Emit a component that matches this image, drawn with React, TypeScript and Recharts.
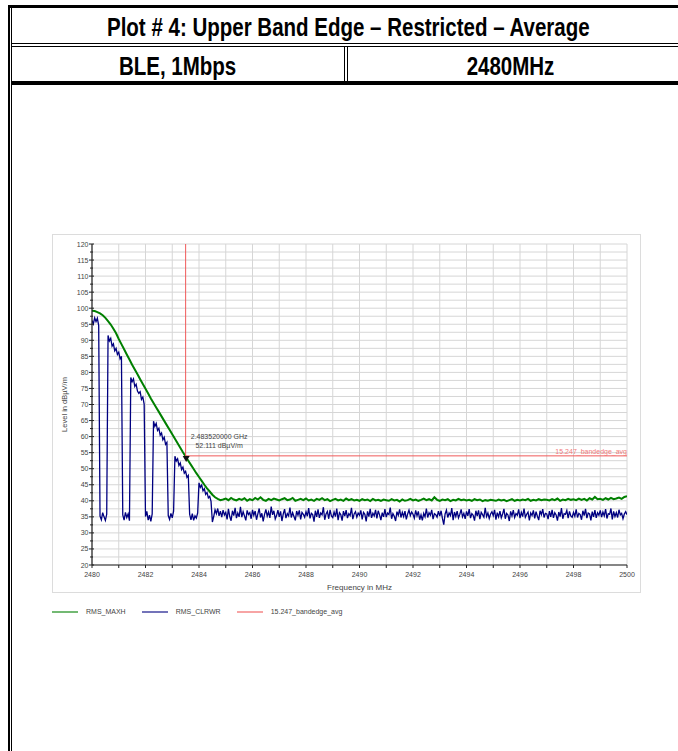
import { LineChart, Line, XAxis, YAxis, CartesianGrid, ReferenceDot, Legend } from 'recharts'

// sweep settings of the two traces (frequency in MHz)
const BLUE_START = 2480
const BLUE_STEP = 0.05
const GREEN_START = 2480
const GREEN_STEP = 0.1

// RMS_CLRWR trace, one row per MHz (20 points each)
const CLRWR_LEVELS = [
  96.2, 95.1, 97.0, 95.8, 96.9, 94.6, 35.2, 34.1, 36.3, 35.0, 33.9, 35.8, 91.5, 89.8, 90.6, 88.2, 88.9, 86.7, 87.5, 85.6,
  86.3, 84.2, 85.0, 35.6, 34.0, 36.4, 34.8, 35.9, 33.8, 78.4, 77.1, 78.0, 75.6, 76.3, 74.2, 73.5, 74.0, 71.6, 72.3, 70.1,
  35.1, 36.7, 34.0, 35.5, 33.6, 35.9, 64.8, 63.2, 64.1, 61.9, 62.6, 60.4, 61.1, 59.0, 59.8, 57.6, 58.2, 35.4, 34.2, 36.1,
  34.7, 36.8, 53.9, 52.4, 53.1, 51.0, 51.8, 49.7, 50.5, 48.6, 49.2, 47.3, 47.9, 35.8, 34.1, 36.0, 33.9, 35.3, 34.6, 36.2,
  45.6, 44.2, 44.9, 43.1, 43.8, 42.0, 42.6, 40.9, 41.4, 39.8, 33.4, 35.1, 37.2, 36.0, 37.6, 35.3, 36.8, 34.9, 37.1, 35.6,
  36.4, 34.2, 37.5, 35.1, 33.8, 36.9, 35.4, 37.8, 34.6, 36.2, 35.0, 38.1, 34.9, 36.6, 35.3, 33.9, 37.0, 35.7, 36.3, 34.4,
  37.2, 35.5, 36.8, 34.1, 35.9, 37.6, 34.8, 36.1, 33.6, 35.8, 37.3, 35.2, 36.5, 34.7, 38.2, 35.6, 36.9, 34.3, 35.4, 37.1,
  35.0, 36.7, 33.7, 35.9, 37.4, 34.6, 36.0, 35.3, 37.9, 34.8, 36.3, 35.1, 33.9, 36.8, 35.5, 37.0, 34.2, 36.4, 35.8, 34.9,
  36.6, 35.2, 37.7, 34.5, 36.1, 35.7, 33.5, 36.9, 35.0, 37.3, 34.7, 36.2, 35.6, 38.0, 34.1, 35.9, 36.7, 34.4, 37.2, 35.3,
  34.8, 36.5, 35.1, 37.6, 34.0, 36.3, 35.7, 33.8, 36.8, 35.2, 37.1, 34.6, 36.0, 35.4, 37.8, 34.3, 35.9, 36.6, 34.9, 36.2,
  35.5, 37.0, 34.2, 36.4, 35.8, 33.6, 36.7, 35.1, 37.5, 34.7, 36.1, 35.3, 37.2, 34.5, 36.9, 35.6, 34.0, 36.3, 35.0, 37.4,
  34.9, 36.2, 35.7, 37.9, 34.4, 36.0, 35.2, 33.7, 36.6, 35.5, 37.3, 34.8, 36.4, 35.1, 36.8, 34.2, 35.9, 37.1, 35.4, 36.5,
  35.8, 34.6, 37.0, 35.3, 36.7, 34.1, 35.6, 33.9, 36.1, 35.0, 37.6, 34.8, 36.3, 35.5, 37.2, 34.3, 36.0, 35.7, 34.9, 36.8,
  35.2, 36.9, 34.5, 32.6, 35.9, 37.1, 34.8, 36.2, 35.4, 37.7, 34.0, 36.5, 35.1, 36.8, 34.7, 35.8, 37.3, 35.0, 36.1, 34.4,
  36.7, 35.3, 37.4, 34.6, 36.0, 35.5, 33.8, 36.9, 35.2, 37.0, 34.3, 36.4, 35.7, 34.9, 37.8, 35.1, 36.2, 34.5, 35.9, 36.6,
  35.4, 37.2, 34.1, 36.3, 35.0, 36.8, 34.7, 35.9, 37.5, 34.4, 36.1, 35.6, 33.7, 36.7, 35.3, 37.1, 34.8, 36.0, 35.5, 37.3,
  34.6, 36.4, 35.1, 37.6, 34.9, 35.8, 36.5, 33.9, 36.2, 35.4, 37.0, 34.5, 36.6, 35.2, 34.0, 36.9, 35.7, 37.4, 34.8, 36.1,
  35.9, 34.3, 36.8, 35.0, 37.2, 34.7, 36.3, 35.6, 33.8, 36.5, 35.1, 37.7, 34.4, 36.0, 35.8, 37.0, 34.6, 36.7, 35.3, 34.9,
  36.4, 35.2, 37.3, 34.8, 36.1, 35.7, 34.1, 36.9, 35.4, 37.5, 34.6, 36.2, 35.9, 33.9, 36.6, 35.0, 37.1, 34.7, 36.3, 35.5,
  37.0, 34.9, 36.5, 35.3, 37.4, 34.5, 36.0, 35.8, 37.6, 34.2, 36.7, 35.1, 36.3, 34.8, 37.2, 35.6, 36.1, 34.4, 35.9, 36.6,
  35.7,
]

// RMS_MAXH trace, one row per MHz (10 points each)
const MAXH_LEVELS = [
  99.2, 99.1, 98.8, 98.4, 97.8, 97.0, 96.0, 94.9, 93.6, 92.2,
  90.4, 88.8, 87.2, 85.6, 84.0, 82.4, 80.9, 79.4, 77.9, 76.4,
  74.9, 73.4, 71.9, 70.5, 69.1, 67.7, 66.3, 64.9, 63.5, 62.1,
  60.7, 59.3, 57.9, 56.5, 55.1, 53.8, 52.5, 51.2, 49.9, 48.6,
  47.4, 46.2, 45.0, 43.9, 42.9, 41.9, 41.1, 40.6, 40.2, 40.4,
  40.7, 40.2, 40.9, 40.4, 40.1, 40.6, 40.3, 40.8, 40.0, 40.5,
  40.2, 40.9, 40.4, 41.1, 40.3, 40.0, 40.6, 40.2, 40.7, 40.4,
  40.1, 40.5, 40.8, 40.2, 40.4, 40.9, 40.0, 40.3, 40.6, 40.2,
  40.7, 40.1, 40.4, 40.0, 40.6, 40.3, 40.8, 40.2, 40.5, 39.9,
  40.3, 40.6, 40.1, 40.4, 40.0, 40.7, 40.2, 40.5, 40.1, 40.3,
  40.0, 40.5, 40.2, 40.4, 39.9, 40.6, 40.1, 40.3, 40.0, 40.4,
  40.2, 40.0, 40.5, 40.1, 40.3, 39.8, 40.4, 40.0, 40.2, 40.6,
  40.1, 40.4, 40.0, 40.3, 40.7, 40.2, 40.5, 40.1, 41.1, 40.3,
  40.0, 40.4, 40.2, 40.5, 39.9, 40.3, 40.1, 40.6, 40.2, 40.4,
  40.1, 40.3, 40.0, 40.5, 40.2, 40.4, 39.9, 40.2, 40.0, 40.3,
  40.2, 40.0, 40.4, 40.1, 40.3, 39.9, 40.2, 40.5, 40.0, 40.3,
  40.1, 40.4, 40.2, 40.6, 40.0, 40.3, 40.1, 40.5, 40.2, 40.4,
  40.3, 40.1, 40.5, 40.2, 40.7, 40.0, 40.4, 40.2, 40.6, 40.3,
  40.5, 40.2, 40.7, 40.3, 40.6, 40.1, 40.8, 40.4, 41.2, 40.5,
  40.6, 40.3, 40.8, 40.4, 40.9, 40.5, 40.7, 41.0, 40.6, 41.2,
  41.4,
]

// 15.247 band edge average limit
const LIMIT_FREQS = [2483.5, 2483.5, 2500]
const LIMIT_LEVELS = [120, 54, 54]

// marker
const MARKER_FREQ = 2483.52
const MARKER_LEVEL = 52.111
const MARKER_TEXT = ['2.483520000 GHz', '52.111 dBµV/m']

const X_TICKS = [2480, 2481, 2482, 2483, 2484, 2485, 2486, 2487, 2488, 2489, 2490,
  2491, 2492, 2493, 2494, 2495, 2496, 2497, 2498, 2499, 2500]
const X_LABELS = [2480, 2482, 2484, 2486, 2488, 2490, 2492, 2494, 2496, 2498, 2500]
const Y_TICKS = [20, 22.5, 25, 27.5, 30, 32.5, 35, 37.5, 40, 42.5, 45, 47.5, 50, 52.5, 55,
  57.5, 60, 62.5, 65, 67.5, 70, 72.5, 75, 77.5, 80, 82.5, 85, 87.5, 90, 92.5, 95, 97.5,
  100, 102.5, 105, 107.5, 110, 112.5, 115, 117.5, 120]
const Y_LABELS = [20, 25, 30, 35, 40, 45, 50, 55, 60, 65, 70, 75, 80, 85, 90, 95, 100, 105, 110, 115, 120]

const LEGEND_ORDER = ['RMS_MAXH', 'RMS_CLRWR', '15.247_bandedge_avg']

const clrwrData = CLRWR_LEVELS.map((v, i) => ({ f: BLUE_START + i * BLUE_STEP, v }))
const maxhData = MAXH_LEVELS.map((v, i) => ({ f: GREEN_START + i * GREEN_STEP, v }))
const limitData = LIMIT_FREQS.map((f, i) => ({ f, v: LIMIT_LEVELS[i] }))

const FONT = '"Liberation Sans", Arial, sans-serif'

function YTick({ x, y, payload }: any) {
  const major = Y_LABELS.includes(payload.value)
  return (
    <g>
      <line x1={x - (major ? 3 : 2)} x2={x + (major ? 2 : 1)} y1={y} y2={y} stroke="#222" />
      {major && (
        <text x={x - 3.5} y={y + 2.5} textAnchor="end" fontSize={7} fill="#444" fontFamily={FONT}>
          {payload.value}
        </text>
      )}
    </g>
  )
}

function XTick({ x, y, payload }: any) {
  const major = X_LABELS.includes(payload.value)
  return (
    <g>
      <line x1={x} x2={x} y1={y} y2={y + 3} stroke="#222" />
      {major && (
        <text x={x} y={y + 11.5} textAnchor="middle" fontSize={7} fill="#444" fontFamily={FONT}>
          {payload.value}
        </text>
      )}
    </g>
  )
}

function MarkerShape({ cx, cy }: any) {
  return (
    <g>
      <path d={`M${cx - 3.5},${cy - 6} L${cx + 3.5},${cy - 6} L${cx},${cy} Z`} fill="#111" />
      <text x={cx + 33} y={cy - 22.5} textAnchor="middle" fontSize={7} fill="#444" fontFamily={FONT}>
        {MARKER_TEXT[0]}
      </text>
      <text x={cx + 33} y={cy - 14} textAnchor="middle" fontSize={7} fill="#444" fontFamily={FONT}>
        {MARKER_TEXT[1]}
      </text>
    </g>
  )
}

function LimitLabel({ x, y, index }: any) {
  if (index !== LIMIT_FREQS.length - 1) return null
  return (
    <text x={x} y={y - 2} textAnchor="end" fontSize={7} fill="#f27a7a" fontFamily={FONT}>
      15.247_bandedge_avg
    </text>
  )
}

function LegendContent({ payload }: any) {
  const items = [...(payload || [])].sort(
    (a: any, b: any) => LEGEND_ORDER.indexOf(a.value) - LEGEND_ORDER.indexOf(b.value),
  )
  return (
    <div style={{ display: 'flex', alignItems: 'center', fontFamily: FONT, fontSize: 7, color: '#444' }}>
      {items.map((p: any) => (
        <div key={p.value} style={{ display: 'flex', alignItems: 'center', marginRight: 16 }}>
          <div style={{ width: 26, height: 2, background: p.color, opacity: 0.55 }} />
          <span style={{ marginLeft: 8 }}>{p.value}</span>
        </div>
      ))}
    </div>
  )
}

function HeadText({ left, top, width, text }: { left: number; top: number; width: number; text: string }) {
  return (
    <div style={{ position: 'absolute', left, top, width, height: 35, lineHeight: '35px', textAlign: 'center',
      fontFamily: FONT, fontWeight: 'bold', fontSize: 25, color: '#000', whiteSpace: 'nowrap' }}>
      <span style={{ display: 'inline-block', transform: 'scaleX(0.82)', transformOrigin: 'center' }}>{text}</span>
    </div>
  )
}

export default function App() {
  const rule = (left: number, top: number, width: number, height: number) => (
    <div style={{ position: 'absolute', left, top, width, height, background: '#000' }} />
  )
  return (
    <div style={{ position: 'absolute', left: 0, top: 0, width: 678, height: 751, overflow: 'hidden', background: '#fff' }}>
      {/* table borders */}
      {rule(8, 5, 680, 3)}
      {rule(8, 5, 2, 760)}
      {rule(11, 8, 1, 760)}
      {rule(11, 43, 680, 1)}
      {rule(11, 46, 680, 1)}
      {rule(344, 47, 1, 35)}
      {rule(347, 47, 1, 35)}
      {rule(11, 81, 680, 4)}

      <HeadText left={12} top={10} width={672} text="Plot # 4: Upper Band Edge – Restricted – Average" />
      <HeadText left={12} top={49} width={332} text="BLE, 1Mbps" />
      <HeadText left={348} top={49} width={324} text="2480MHz" />

      {/* chart frame */}
      <div style={{ position: 'absolute', left: 52, top: 234, width: 589, height: 359, border: '1px solid #dcdcdc', boxSizing: 'border-box' }} />

      <div style={{ position: 'absolute', left: 52, top: 234 }}>
        <LineChart width={589} height={400} margin={{ top: 10, right: 14, bottom: 41, left: 0 }}>
          <CartesianGrid stroke="#d6d6d6" strokeWidth={1} />
          <XAxis
            dataKey="f"
            type="number"
            domain={[2480, 2500]}
            ticks={X_TICKS}
            interval={0}
            height={28}
            tickSize={0}
            tickMargin={0}
            tickLine={false}
            axisLine={{ stroke: '#222', strokeWidth: 1.2 }}
            tick={<XTick />}
            allowDataOverflow
            label={{
              content: ({ viewBox }: any) => (
                <text x={viewBox.x + viewBox.width / 2} y={viewBox.y + 25} textAnchor="middle" fontSize={8} fill="#444" fontFamily={FONT}>
                  Frequency in MHz
                </text>
              ),
            }}
          />
          <YAxis
            type="number"
            domain={[20, 120]}
            ticks={Y_TICKS}
            interval={0}
            width={40}
            tickSize={0}
            tickMargin={0}
            tickLine={false}
            axisLine={{ stroke: '#222', strokeWidth: 1.2 }}
            tick={<YTick />}
            allowDataOverflow
            label={{
              content: ({ viewBox }: any) => (
                <text
                  x={15}
                  y={viewBox.y + viewBox.height / 2}
                  transform={`rotate(-90 15 ${viewBox.y + viewBox.height / 2})`}
                  textAnchor="middle"
                  fontSize={7.5}
                  fill="#444"
                  fontFamily={FONT}
                >
                  Level in dBµV/m
                </text>
              ),
            }}
          />
          <Line data={maxhData} dataKey="v" name="RMS_MAXH" stroke="#008000" strokeWidth={2} dot={false}
            activeDot={false} isAnimationActive={false} type="linear" />
          <Line data={clrwrData} dataKey="v" name="RMS_CLRWR" stroke="#000080" strokeWidth={1.3} dot={false}
            activeDot={false} isAnimationActive={false} type="linear" />
          <Line data={limitData} dataKey="v" name="15.247_bandedge_avg" stroke="#f05a5a" strokeWidth={1} dot={false}
            activeDot={false} isAnimationActive={false} type="linear" label={<LimitLabel />} />
          <ReferenceDot x={MARKER_FREQ} y={MARKER_LEVEL} r={3} shape={<MarkerShape />} />
          <Legend
            layout="horizontal"
            verticalAlign="middle"
            align="center"
            wrapperStyle={{ left: 0, top: 374, width: 400 }}
            content={<LegendContent />}
          />
        </LineChart>
      </div>
    </div>
  )
}
